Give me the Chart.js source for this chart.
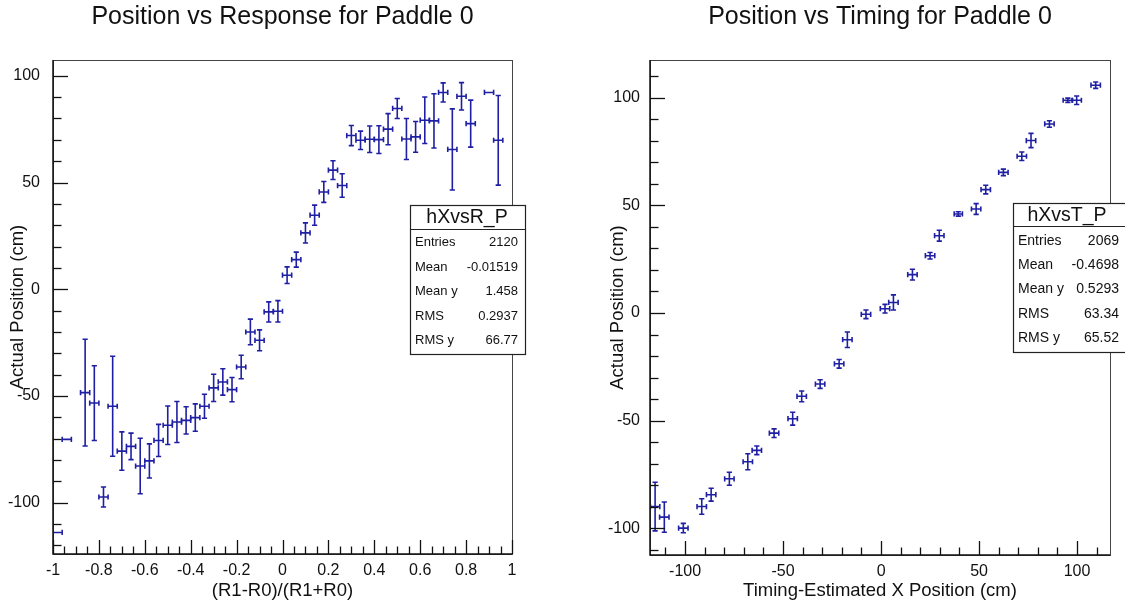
<!DOCTYPE html>
<html lang="en">
<head>
<meta charset="UTF-8">
<title>Paddle 0 position calibration</title>
<script src="https://cdn.jsdelivr.net/npm/chart.js"></script>
<style>
  body { margin: 0; background: #fff; }
  canvas { position: absolute; top: 0; }
</style>
</head>
<body>
<canvas id="respChart" width="562" height="603" style="left:0"></canvas>
<canvas id="timeChart" width="563" height="603" style="left:562px"></canvas>
<script>
  // Position vs response (R1-R0)/(R1+R0), profile bins of width 0.04
  const respX = [-0.98, -0.94, -0.86, -0.82, -0.78, -0.74, -0.70, -0.66, -0.62, -0.58, -0.54, -0.50,
    -0.46, -0.42, -0.38, -0.34, -0.30, -0.26, -0.22, -0.18, -0.14, -0.10, -0.06, -0.02,
    0.02, 0.06, 0.10, 0.14, 0.18, 0.22, 0.26, 0.30, 0.34, 0.38, 0.42, 0.46, 0.50, 0.54,
    0.58, 0.62, 0.66, 0.70, 0.74, 0.78, 0.82, 0.90, 0.94];
  const respY = [-113.9, -70.3, -48.4, -53.3, -97.3, -54.8, -75.8, -73.6, -82.8, -80.4, -70.8, -63.7,
    -62.2, -61.4, -60.1, -54.8, -46.2, -43.4, -47.0, -36.4, -20.0, -23.9, -10.6, -10.3,
    6.6, 13.9, 26.4, 34.7, 45.6, 55.8, 48.6, 72.0, 69.8, 70.3, 70.1, 75.0, 84.7, 70.4,
    71.4, 79.2, 78.9, 92.2, 65.5, 90.4, 77.6, 92.2, 69.8];
  const respYErr = [0, 0, 25, 17.5, 4.7, 23.4, 9, 6.2, 13, 8, 7.5, 9,
    9.6, 6.4, 6.4, 5.6, 6.4, 6.2, 5.7, 5.5, 6, 4.9, 4.7, 5,
    3.9, 3.5, 4.7, 4.7, 4.9, 4.4, 5.5, 4.7, 4.3, 6.2, 6.5, 7.3, 4.7, 9.6,
    7.2, 10.9, 12.7, 4.5, 19, 6.4, 11, 0, 21];
  const respBinHalf = 0.02;
  const respXTicks = [-1, -0.8, -0.6, -0.4, -0.2, 0, 0.2, 0.4, 0.6, 0.8, 1];
  const respYTicks = [-100, -50, 0, 50, 100];
  const respStats = [['Entries', '2120'], ['Mean', '-0.01519'], ['Mean y', '1.458'], ['RMS', '0.2937'], ['RMS y', '66.77']];

  // Position vs timing-estimated position
  const timeX = [-115.3, -110.6, -100.9, -91.5, -86.7, -77.4, -68.0, -63.4, -54.6, -45.1, -40.5, -31.1,
    -21.4, -17.2, -7.7, 2.0, 6.3, 16.0, 25.0, 29.7, 39.4, 48.5, 53.4, 62.4,
    71.8, 76.5, 85.9, 95.3, 99.8, 109.5];
  const timeY = [-89.9, -94.8, -99.9, -89.9, -84.4, -77.0, -69.1, -63.8, -55.8, -49.1, -38.7, -33.0,
    -23.6, -12.4, -0.6, 2.0, 4.9, 17.8, 26.6, 35.9, 46.0, 48.3, 57.3, 65.3,
    72.8, 80.1, 87.8, 98.8, 98.8, 105.8];
  const timeYErr = [11.3, 7.0, 2.2, 3.6, 3.0, 3.0, 3.7, 2.0, 2.0, 3.0, 2.5, 2.0,
    2.0, 3.6, 2.0, 2.0, 3.5, 2.5, 1.5, 2.5, 1.0, 2.5, 2.0, 1.5,
    2.0, 3.3, 1.5, 1.0, 2.0, 1.5];
  const timeXErr = [2.4, 2.4, 2.4, 2.4, 2.4, 2.4, 2.4, 2.4, 2.4, 2.4, 2.4, 2.4,
    2.4, 2.4, 2.4, 2.4, 2.4, 2.4, 2.4, 2.4, 2.1, 2.4, 2.4, 2.4,
    2.4, 2.4, 2.4, 2.4, 2.4, 2.4];
  const timeXTicks = [-100, -50, 0, 50, 100];
  const timeYTicks = [-100, -50, 0, 50, 100];
  const timeStats = [['Entries', '2069'], ['Mean', '-0.4698'], ['Mean y', '0.5293'], ['RMS', '63.34'], ['RMS y', '65.52']];

  const FONT = '"Liberation Sans", Arial, Helvetica, sans-serif';
  const MARKER = '#1f1fa3';

  // ROOT-like frame: inward ticks, error bars with caps, stats box
  const rootPad = {
    id: 'rootPad',
    afterDatasetsDraw(chart, args, o) {
      const { ctx, chartArea: a, scales: { x, y } } = chart;
      const pts = chart.data.datasets[0].data;

      // error bars
      ctx.save();
      ctx.beginPath();
      ctx.rect(a.left, a.top, a.right - a.left, a.bottom - a.top);
      ctx.clip();
      ctx.strokeStyle = MARKER;
      ctx.lineWidth = 1.6;
      const cap = 2.6;
      pts.forEach((p, i) => {
        const px = x.getPixelForValue(p.x), py = y.getPixelForValue(p.y);
        const x0 = x.getPixelForValue(p.x - o.xErr[i]), x1 = x.getPixelForValue(p.x + o.xErr[i]);
        ctx.beginPath();
        ctx.moveTo(x0, py); ctx.lineTo(x1, py);
        ctx.moveTo(x0, py - cap); ctx.lineTo(x0, py + cap);
        ctx.moveTo(x1, py - cap); ctx.lineTo(x1, py + cap);
        if (o.yErr[i] > 0) {
          const y0 = y.getPixelForValue(p.y - o.yErr[i]), y1 = y.getPixelForValue(p.y + o.yErr[i]);
          ctx.moveTo(px, y0); ctx.lineTo(px, y1);
          ctx.moveTo(px - cap, y0); ctx.lineTo(px + cap, y0);
          ctx.moveTo(px - cap, y1); ctx.lineTo(px + cap, y1);
        }
        ctx.stroke();
      });
      ctx.restore();

      // frame
      ctx.save();
      ctx.strokeStyle = '#444';
      ctx.lineWidth = 1;
      ctx.strokeRect(a.left + 0.5, a.top + 0.5, a.right - a.left, a.bottom - a.top);
      ctx.strokeStyle = '#111';
      ctx.lineWidth = 1.5;
      ctx.beginPath();
      ctx.moveTo(a.left, a.top); ctx.lineTo(a.left, a.bottom); ctx.lineTo(a.right, a.bottom);
      ctx.stroke();

      // inward ticks
      ctx.lineWidth = 1.3;
      const eps = 1e-6;
      const ticksFor = (scale, step) => {
        const out = [];
        for (let v = Math.ceil(scale.min / step - eps) * step; v <= scale.max + eps; v += step) out.push(v);
        return out;
      };
      ticksFor(x, o.xMinor).forEach(v => {
        const major = Math.abs(v / o.xMajor - Math.round(v / o.xMajor)) < 1e-4;
        const px = Math.round(x.getPixelForValue(v)) + 0.5;
        ctx.beginPath();
        ctx.moveTo(px, a.bottom); ctx.lineTo(px, a.bottom - (major ? 14 : 7.5));
        ctx.stroke();
      });
      ticksFor(y, o.yMinor).forEach(v => {
        const major = Math.abs(v / o.yMajor - Math.round(v / o.yMajor)) < 1e-4;
        const py = Math.round(y.getPixelForValue(v)) + 0.5;
        ctx.beginPath();
        ctx.moveTo(a.left, py); ctx.lineTo(a.left + (major ? 15 : 8.5), py);
        ctx.stroke();
      });
      ctx.restore();
    },
    afterDraw(chart, args, o) {
      const { ctx } = chart;
      const b = o.box;
      ctx.save();
      ctx.fillStyle = '#fff';
      ctx.fillRect(b.left, b.top, b.right - b.left, b.bottom - b.top);
      ctx.strokeStyle = '#222';
      ctx.lineWidth = 1.2;
      ctx.strokeRect(b.left + 0.5, b.top + 0.5, b.right - b.left, b.bottom - b.top);
      ctx.beginPath();
      ctx.moveTo(b.left, b.sep + 0.5); ctx.lineTo(b.right, b.sep + 0.5);
      ctx.stroke();
      ctx.fillStyle = '#111';
      ctx.textBaseline = 'middle';
      ctx.textAlign = 'center';
      ctx.font = b.headSize + 'px ' + FONT;
      ctx.fillText(o.name, b.headX, (b.top + b.sep) / 2 + 1);
      ctx.font = b.rowSize + 'px ' + FONT;
      o.stats.forEach((s, i) => {
        const yy = b.rowTop + i * b.rowStep;
        ctx.textAlign = 'left';
        ctx.fillText(s[0], b.left + 5, yy);
        ctx.textAlign = 'right';
        ctx.fillText(s[1], b.valRight, yy);
      });
      ctx.restore();
    }
  };

  function makeChart(id, cfg) {
    return new Chart(document.getElementById(id), {
      type: 'scatter',
      data: {
        datasets: [{
          data: cfg.xs.map((v, i) => ({ x: v, y: cfg.ys[i] })),
          pointRadius: 0,
          pointHoverRadius: 0,
          showLine: false
        }]
      },
      options: {
        responsive: false,
        animation: false,
        events: [],
        layout: { padding: { left: 0, right: cfg.padRight, top: 0, bottom: 0 } },
        scales: {
          x: {
            type: 'linear',
            min: cfg.xMin, max: cfg.xMax,
            afterBuildTicks: s => { s.ticks = cfg.xTicks.map(v => ({ value: v })); },
            afterFit: s => { s.height = cfg.xHeight; },
            grid: { display: false, drawTicks: false },
            border: { display: false },
            ticks: {
              padding: 7, color: '#111', maxRotation: 0, autoSkip: false,
              font: { family: FONT, size: 16 },
              callback: v => String(+v.toFixed(2))
            },
            title: {
              display: true, text: cfg.xTitle, color: '#111',
              font: { family: FONT, size: 18.5 }, padding: { top: 0, bottom: 1 }
            }
          },
          y: {
            type: 'linear',
            min: cfg.yMin, max: cfg.yMax,
            afterBuildTicks: s => { s.ticks = cfg.yTicks.map(v => ({ value: v })); },
            afterFit: s => { s.width = cfg.yWidth; },
            grid: { display: false, drawTicks: false },
            border: { display: false },
            ticks: {
              padding: cfg.yPad, color: '#111', autoSkip: false,
              font: { family: FONT, size: 16 },
              callback: v => String(v)
            },
            title: {
              display: true, text: 'Actual Position (cm)', color: '#111',
              font: { family: FONT, size: 18.5 }, padding: { top: cfg.yTitlePad, bottom: 0 }
            }
          }
        },
        plugins: {
          legend: { display: false },
          tooltip: { enabled: false },
          title: {
            display: true, text: cfg.title, color: '#111', fullSize: false,
            font: { family: FONT, size: 25, weight: 'normal' },
            padding: { top: 2, bottom: 28 }
          },
          rootPad: {
            xErr: cfg.xErr, yErr: cfg.yErr,
            xMajor: cfg.xMajor, xMinor: cfg.xMinor, yMajor: 50, yMinor: 10,
            name: cfg.name, stats: cfg.stats, box: cfg.box
          }
        }
      },
      plugins: [rootPad]
    });
  }

  makeChart('respChart', {
    xs: respX, ys: respY,
    xErr: respX.map(() => respBinHalf), yErr: respYErr,
    xMin: -1, xMax: 1, yMin: -124, yMax: 107.4,
    xTicks: respXTicks, yTicks: respYTicks,
    xMajor: 0.2, xMinor: 0.05,
    xTitle: '(R1-R0)/(R1+R0)',
    title: 'Position vs Response for Paddle 0',
    padRight: 50, xHeight: 49, yWidth: 53, yPad: 13, yTitlePad: 7,
    name: 'hXvsR_P', stats: respStats,
    box: { left: 410, right: 525, top: 205, sep: 229, bottom: 354, headX: 467, headSize: 19.5,
      rowSize: 13, rowTop: 242.5, rowStep: 24.6, valRight: 518 }
  });

  makeChart('timeChart', {
    xs: timeX, ys: timeY,
    xErr: timeXErr, yErr: timeYErr,
    xMin: -117.9, xMax: 116.8, yMin: -112.4, yMax: 117.5,
    xTicks: timeXTicks, yTicks: timeYTicks,
    xMajor: 50, xMinor: 10,
    xTitle: 'Timing-Estimated X Position (cm)',
    title: 'Position vs Timing for Paddle 0',
    padRight: 15, xHeight: 48, yWidth: 88, yPad: 10, yTitlePad: 45,
    name: 'hXvsT_P', stats: timeStats,
    box: { left: 451, right: 575, top: 203, sep: 226, bottom: 352, headX: 505, headSize: 19.5,
      rowSize: 14, rowTop: 241, rowStep: 24.3, valRight: 557 }
  });
</script>
</body>
</html>
